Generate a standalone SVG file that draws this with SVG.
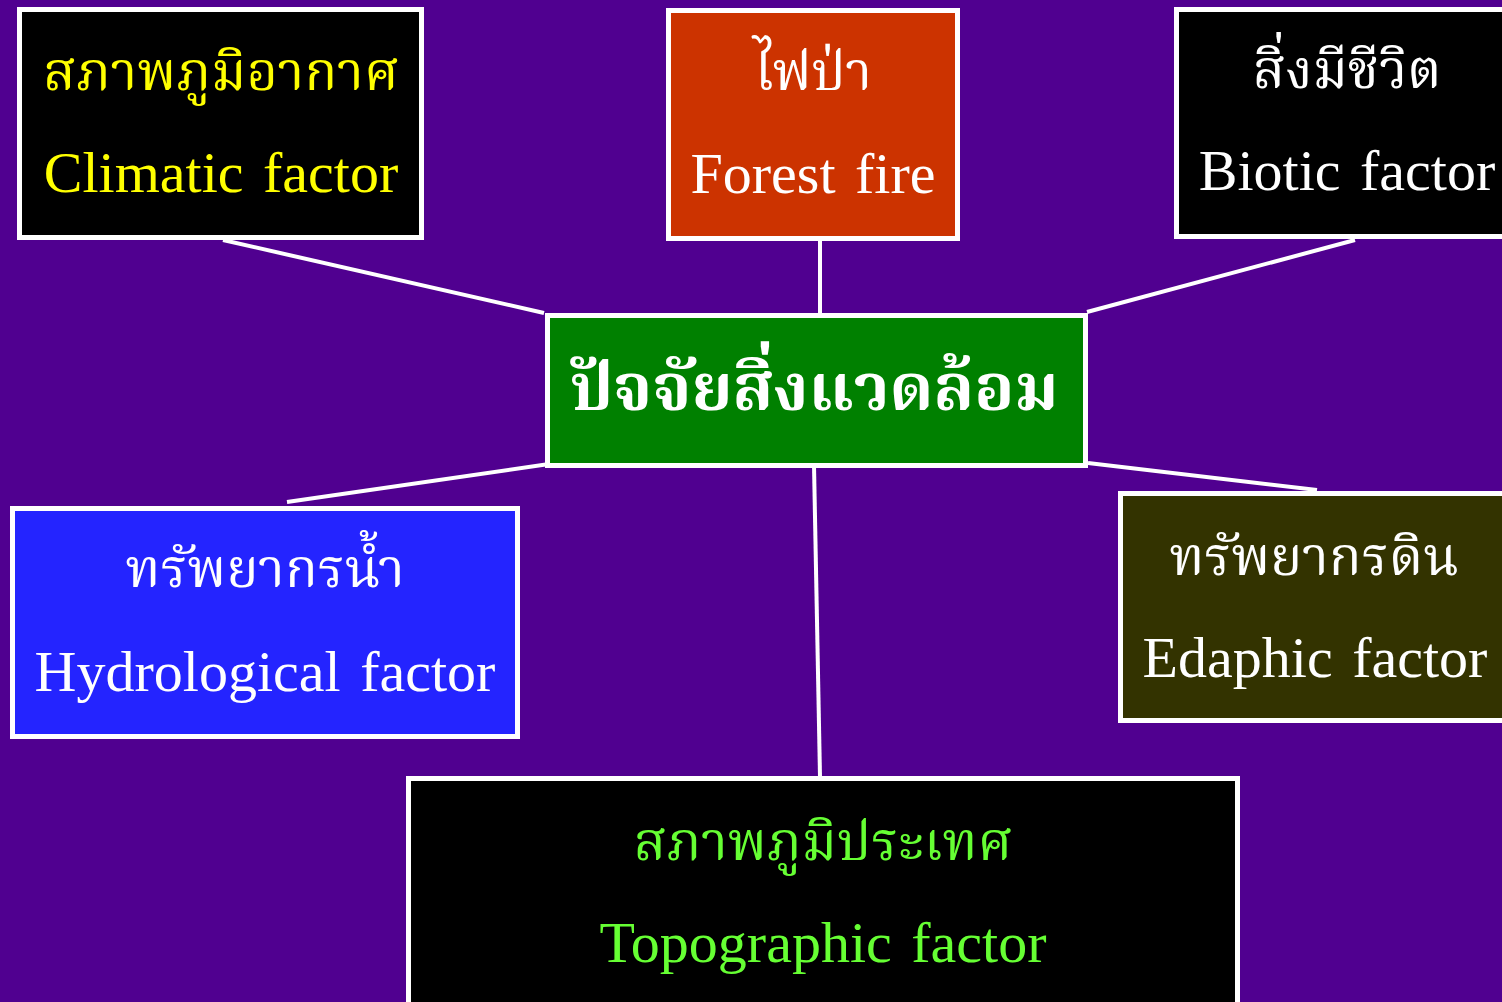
<svg xmlns="http://www.w3.org/2000/svg" width="1502" height="1002" viewBox="0 0 1502 1002">
<style>
.box{stroke:#FFFFFF;stroke-width:5}
.t{font-family:"Liberation Serif","Noto Serif Thai","Noto Sans Thai","DejaVu Serif",serif;text-anchor:middle}
.th{font-size:54px}
.en{font-size:58px;word-spacing:5px}
.conn{stroke:#FFFFFF;stroke-width:4;fill:none}
</style>
<rect x="0" y="0" width="1502" height="1002" fill="#500090"/>
<g id="connectors">
<line class="conn" x1="223" y1="240" x2="544" y2="313"/>
<line class="conn" x1="820" y1="240" x2="820" y2="314"/>
<line class="conn" x1="1355" y1="240" x2="1087" y2="312"/>
<line class="conn" x1="556" y1="463" x2="287" y2="502"/>
<line class="conn" x1="814" y1="465" x2="820" y2="777"/>
<line class="conn" x1="1088" y1="463" x2="1317" y2="490"/>
</g>
<g id="climatic">
<rect class="box" x="19.5" y="9.5" width="402" height="228" fill="#000000"/>
<text class="t th" x="221" y="90" fill="#FFFF00">สภาพภูมิอากาศ</text>
<text class="t en" x="221" y="192" fill="#FFFF00">Climatic factor</text>
</g>
<g id="forestfire">
<rect class="box" x="668.5" y="10.5" width="289" height="228" fill="#CC3300"/>
<text class="t th" x="813" y="90" fill="#FFFFFF">ไฟป่า</text>
<text class="t en" x="813" y="193" fill="#FFFFFF">Forest fire</text>
</g>
<g id="biotic">
<rect class="box" x="1176.5" y="9.5" width="340" height="227" fill="#000000"/>
<text class="t th" x="1347" y="88" fill="#FFFFFF">สิ่งมีชีวิต</text>
<text class="t en" x="1347" y="190" fill="#FFFFFF">Biotic factor</text>
</g>
<g id="center">
<rect class="box" x="547.5" y="315.5" width="538" height="150" fill="#008000"/>
<text class="t" x="814" y="410" fill="#FFFFFF" font-size="66" font-weight="bold">ปัจจัยสิ่งแวดล้อม</text>
</g>
<g id="hydrological">
<rect class="box" x="12.5" y="508.5" width="505" height="228" fill="#2424FF"/>
<text class="t th" x="265" y="587" fill="#FFFFFF">ทรัพยากรน้ำ</text>
<text class="t en" x="265" y="691" fill="#FFFFFF">Hydrological factor</text>
</g>
<g id="edaphic">
<rect class="box" x="1120.5" y="493.5" width="400" height="227" fill="#333300"/>
<text class="t th" x="1314" y="575" fill="#FFFFFF">ทรัพยากรดิน</text>
<text class="t en" x="1315" y="677" fill="#FFFFFF">Edaphic factor</text>
</g>
<g id="topographic">
<rect class="box" x="408.5" y="778.5" width="829" height="240" fill="#000000"/>
<text class="t th" x="823" y="860" fill="#66FF33">สภาพภูมิประเทศ</text>
<text class="t en" x="823" y="962" fill="#66FF33">Topographic factor</text>
</g>
</svg>
